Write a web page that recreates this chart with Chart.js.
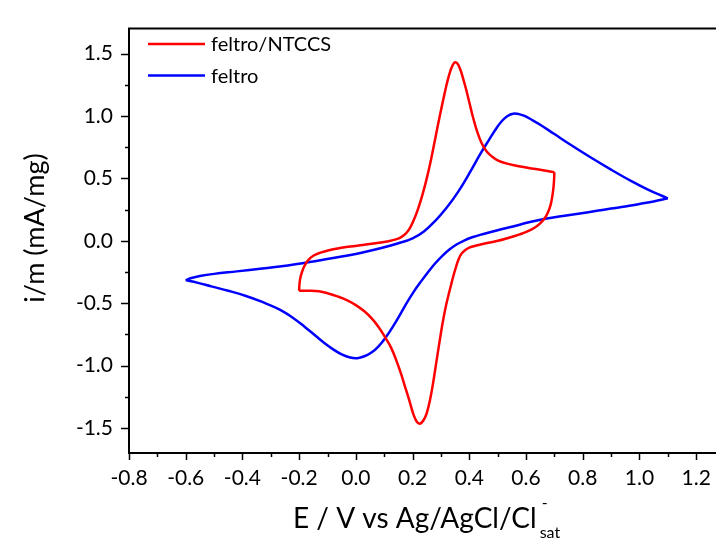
<!DOCTYPE html>
<html>
<head>
<meta charset="utf-8">
<script src="https://cdn.jsdelivr.net/npm/chart.js@4.4.0/dist/chart.umd.min.js"></script>
<style>
  html, body { margin: 0; padding: 0; background: #fff; }
  #wrap { width: 716px; height: 540px; }
</style>
</head>
<body>
<div id="wrap"><canvas id="cv" width="716" height="540"></canvas></div>
<script>
// feltro/NTCCS, forward scan (-0.2 -> 0.7 V)
var redFwdE = [-0.2, -0.199, -0.196, -0.19, -0.181, -0.168, -0.15, -0.125, -0.095, -0.06, -0.02, 0.024, 0.07, 0.11, 0.144, 0.16, 0.175, 0.19, 0.205, 0.22, 0.235, 0.25, 0.265, 0.28, 0.295, 0.31, 0.322, 0.333, 0.342, 0.35, 0.358, 0.367, 0.377, 0.388, 0.40, 0.413, 0.427, 0.442, 0.46, 0.48, 0.50, 0.53, 0.57, 0.62, 0.66, 0.7];
var redFwdI = [-0.40, -0.35, -0.30, -0.25, -0.20, -0.155, -0.12, -0.095, -0.075, -0.06, -0.045, -0.034, -0.02, -0.005, 0.013, 0.03, 0.055, 0.10, 0.17, 0.26, 0.37, 0.50, 0.65, 0.82, 0.99, 1.15, 1.27, 1.36, 1.41, 1.43, 1.42, 1.38, 1.31, 1.22, 1.11, 0.99, 0.88, 0.79, 0.72, 0.675, 0.645, 0.62, 0.60, 0.58, 0.565, 0.55];
// feltro/NTCCS, reverse scan (0.7 -> -0.2 V)
var redRevE = [0.7, 0.699, 0.697, 0.693, 0.687, 0.678, 0.666, 0.65, 0.63, 0.605, 0.578, 0.54, 0.497, 0.455, 0.425, 0.40, 0.385, 0.372, 0.362, 0.353, 0.344, 0.335, 0.325, 0.315, 0.305, 0.295, 0.284, 0.273, 0.262, 0.25, 0.238, 0.226, 0.215, 0.203, 0.19, 0.175, 0.16, 0.143, 0.125, 0.105, 0.08, 0.055, 0.03, 0.0, -0.032, -0.065, -0.1, -0.13, -0.165, -0.2];
var redRevI = [0.55, 0.49, 0.43, 0.36, 0.29, 0.23, 0.18, 0.14, 0.105, 0.075, 0.052, 0.025, -0.002, -0.022, -0.038, -0.055, -0.075, -0.105, -0.15, -0.21, -0.28, -0.36, -0.45, -0.55, -0.67, -0.81, -0.97, -1.13, -1.27, -1.38, -1.44, -1.465, -1.45, -1.39, -1.29, -1.18, -1.07, -0.96, -0.86, -0.78, -0.69, -0.62, -0.565, -0.515, -0.475, -0.445, -0.42, -0.405, -0.40, -0.40];
// feltro, forward scan (-0.6 -> 1.1 V)
var blueFwdE = [-0.6, -0.58, -0.55, -0.5, -0.42, -0.33, -0.24, -0.15, -0.06, 0.02, 0.09, 0.15, 0.2, 0.24, 0.28, 0.32, 0.36, 0.40, 0.44, 0.47, 0.495, 0.515, 0.535, 0.555, 0.575, 0.595, 0.62, 0.65, 0.7, 0.76, 0.83, 0.9, 0.97, 1.03, 1.07, 1.1];
var blueFwdI = [-0.315, -0.298, -0.282, -0.265, -0.245, -0.222, -0.197, -0.165, -0.13, -0.095, -0.058, -0.02, 0.02, 0.075, 0.16, 0.265, 0.39, 0.54, 0.70, 0.81, 0.90, 0.96, 1.0, 1.018, 1.015, 1.0, 0.97, 0.93, 0.855, 0.765, 0.665, 0.57, 0.48, 0.41, 0.37, 0.34];
// feltro, reverse scan (1.1 -> -0.6 V)
var blueRevE = [1.1, 1.05, 1.0, 0.95, 0.9, 0.85, 0.79, 0.73, 0.673, 0.61, 0.554, 0.5, 0.45, 0.41, 0.38, 0.355, 0.33, 0.305, 0.28, 0.255, 0.23, 0.205, 0.18, 0.155, 0.13, 0.105, 0.08, 0.055, 0.03, 0.005, -0.02, -0.05, -0.08, -0.11, -0.14, -0.18, -0.22, -0.27, -0.33, -0.39, -0.45, -0.51, -0.56, -0.6];
var blueRevI = [0.34, 0.315, 0.295, 0.275, 0.258, 0.24, 0.218, 0.198, 0.178, 0.148, 0.115, 0.085, 0.055, 0.028, 0.0, -0.03, -0.07, -0.12, -0.18, -0.25, -0.325, -0.405, -0.495, -0.595, -0.69, -0.775, -0.845, -0.895, -0.925, -0.94, -0.935, -0.91, -0.87, -0.82, -0.765, -0.69, -0.62, -0.55, -0.49, -0.44, -0.40, -0.365, -0.335, -0.315];

var seriesNames = ['feltro/NTCCS', 'feltro'];
var seriesColors = ['#ff0000', '#0000ff'];
var xTicks = [-0.8, -0.6, -0.4, -0.2, 0.0, 0.2, 0.4, 0.6, 0.8, 1.0, 1.2];
var yTicks = [-1.5, -1.0, -0.5, 0.0, 0.5, 1.0, 1.5];

function pts(xs, ys) {
  return xs.map(function (x, i) { return { x: x, y: ys[i] }; });
}

function branch(label, color, xs, ys) {
  return {
    label: label,
    data: pts(xs, ys),
    borderColor: color,
    borderWidth: 2.5,
    pointRadius: 0,
    showLine: true,
    fill: false,
    tension: 0.4
  };
}

var FONT = 'Lato, "Open Sans", sans-serif';

// draws ticks, frame, legend and the axis titles (with sub/superscript)
var decor = {
  id: 'decor',
  afterDraw: function (chart) {
    var ctx = chart.ctx, a = chart.chartArea;
    var xs = chart.scales.x, ys = chart.scales.y;
    ctx.save();
    ctx.strokeStyle = '#000';
    ctx.lineWidth = 2;
    ctx.beginPath();
    ctx.moveTo(a.left, a.top); ctx.lineTo(a.right, a.top);
    ctx.moveTo(a.left, a.top - 1); ctx.lineTo(a.left, a.bottom + 1);
    ctx.moveTo(a.left - 1, a.bottom); ctx.lineTo(a.right, a.bottom);
    ctx.stroke();
    ctx.lineWidth = 1.5;
    ctx.beginPath();
    for (var k = -8; k <= 12; k++) {
      var px = Math.round(xs.getPixelForValue(k / 10)) + 0.5;
      var len = (k % 2 === 0) ? 7 : 4;
      ctx.moveTo(px, a.bottom); ctx.lineTo(px, a.bottom + len);
    }
    for (var m = -6; m <= 6; m++) {
      var py = Math.round(ys.getPixelForValue(m / 4)) + 0.5;
      var l2 = (m % 2 === 0) ? 8 : 4;
      ctx.moveTo(a.left, py); ctx.lineTo(a.left - l2, py);
    }
    ctx.stroke();

    // legend
    ctx.font = '20px ' + FONT;
    ctx.textBaseline = 'middle';
    ctx.textAlign = 'left';
    seriesNames.forEach(function (name, i) {
      var y = 44 + i * 31.5;
      ctx.strokeStyle = seriesColors[i];
      ctx.lineWidth = 2.5;
      ctx.beginPath();
      ctx.moveTo(148, y); ctx.lineTo(205, y);
      ctx.stroke();
      ctx.fillStyle = '#000';
      ctx.fillText(name, 211, y + 1);
    });

    // y title
    ctx.fillStyle = '#000';
    ctx.save();
    ctx.translate(44, 228);
    ctx.rotate(-Math.PI / 2);
    ctx.font = '27px ' + FONT;
    ctx.textAlign = 'center';
    ctx.textBaseline = 'alphabetic';
    ctx.fillText('i/m (mA/mg)', 0, 0);
    ctx.restore();

    // x title
    ctx.font = '28px ' + FONT;
    ctx.textAlign = 'left';
    ctx.textBaseline = 'alphabetic';
    var main = 'E / V vs Ag/AgCl/Cl';
    var w = ctx.measureText(main).width;
    var x0 = 293;
    ctx.fillText(main, x0, 528);
    ctx.font = '16px ' + FONT;
    ctx.fillText('-', x0 + w + 5, 508);
    ctx.fillText('sat', x0 + w + 3, 538);
    ctx.restore();
  }
};

new Chart(document.getElementById('cv'), {
  type: 'scatter',
  data: {
    datasets: [
      branch(seriesNames[0], seriesColors[0], redFwdE, redFwdI),
      branch(seriesNames[0], seriesColors[0], redRevE, redRevI),
      branch(seriesNames[1], seriesColors[1], blueFwdE, blueFwdI),
      branch(seriesNames[1], seriesColors[1], blueRevE, blueRevI)
    ]
  },
  options: {
    responsive: false,
    animation: false,
    layout: { padding: { top: 16, right: 0, left: 0, bottom: 0 } },
    plugins: { legend: { display: false }, tooltip: { enabled: false } },
    scales: {
      x: {
        type: 'linear',
        min: -0.8,
        max: 1.27,
        afterFit: function (s) { s.height = 87; s.paddingLeft = 0; s.paddingRight = 0; },
        afterBuildTicks: function (s) { s.ticks = xTicks.map(function (v) { return { value: v }; }); },
        grid: { display: false, drawTicks: false },
        border: { display: false },
        ticks: {
          padding: 13,
          color: '#000',
          font: { family: FONT, size: 21 },
          maxRotation: 0,
          autoSkip: false,
          callback: function (v) { return (Math.abs(v) < 1e-9 ? 0 : v).toFixed(1); }
        }
      },
      y: {
        type: 'linear',
        min: -1.7,
        max: 1.7,
        afterFit: function (s) { s.width = 129; },
        afterBuildTicks: function (s) { s.ticks = yTicks.map(function (v) { return { value: v }; }); },
        grid: { display: false, drawTicks: false },
        border: { display: false },
        ticks: {
          padding: 16,
          color: '#000',
          font: { family: FONT, size: 21 },
          autoSkip: false,
          callback: function (v) { return (Math.abs(v) < 1e-9 ? 0 : v).toFixed(1); }
        }
      }
    }
  },
  plugins: [decor]
});
</script>
</body>
</html>
